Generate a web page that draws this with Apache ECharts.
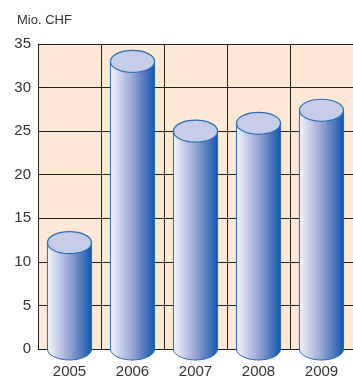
<!DOCTYPE html>
<html>
<head>
<meta charset="utf-8">
<script src="https://cdn.jsdelivr.net/npm/echarts@6/dist/echarts.min.js"></script>
<style>html,body{margin:0;padding:0;background:#fff;}#c{width:353px;height:379px;}</style>
</head>
<body>
<div id="c"></div>
<script>
const categories = ['2005', '2006', '2007', '2008', '2009'];
const values = [12.2, 33, 25, 25.9, 27.4];
const yTicks = { min: 0, max: 35, interval: 5 };
const unitLabel = 'Mio. CHF';

const chart = echarts.init(document.getElementById('c'));
const FONT = '"Liberation Sans", Arial, sans-serif';

function renderCylinder(params, api) {
  const idx = api.value(0);
  const val = api.value(1);
  const top = api.coord([idx, val]);
  const base = api.coord([idx, 0]);
  const bandW = api.size([1, 0])[0];
  const rx = bandW * 0.35;
  const ry = 11;
  const cx = top[0];
  const l = cx - rx, r = cx + rx;
  const bodyPath = 'M' + l + ',' + top[1] + ' L' + l + ',' + base[1] +
    ' A' + rx + ',' + ry + ' 0 0 0 ' + r + ',' + base[1] +
    ' L' + r + ',' + top[1] + ' Z';
  const capPath = 'M' + l + ',' + top[1] +
    ' A' + rx + ',' + ry + ' 0 1 0 ' + r + ',' + top[1] +
    ' A' + rx + ',' + ry + ' 0 1 0 ' + l + ',' + top[1] + ' Z';
  return {
    type: 'group',
    children: [
      {
        type: 'path',
        shape: { pathData: bodyPath },
        style: {
          fill: new echarts.graphic.LinearGradient(0, 0, 1, 0, [
            { offset: 0, color: '#f4f5fc' },
            { offset: 0.45, color: '#a2aed8' },
            { offset: 0.8, color: '#4a74bd' },
            { offset: 1, color: '#0858ad' }
          ]),
          stroke: '#2a6cb6',
          lineWidth: 1
        }
      },
      {
        type: 'path',
        shape: { pathData: capPath },
        style: { fill: '#c5cde8', stroke: '#2a6cb6', lineWidth: 1.2 }
      }
    ]
  };
}

chart.setOption({
  animation: false,
  backgroundColor: '#ffffff',
  title: {
    text: unitLabel,
    left: 12,
    top: 9,
    textStyle: { fontFamily: FONT, fontSize: 13, fontWeight: 'normal', color: '#333' }
  },
  grid: {
    left: 38, top: 44, bottom: 27, width: 322,
    show: true, backgroundColor: '#fde9d5', borderWidth: 0
  },
  xAxis: {
    type: 'category',
    data: categories,
    boundaryGap: true,
    axisLine: { show: true, lineStyle: { color: '#222', width: 1 } },
    axisTick: { show: false },
    splitLine: { show: true, interval: 0, lineStyle: { color: '#2a2520', width: 1 } },
    axisLabel: { fontFamily: FONT, fontSize: 15, color: '#333', margin: 15, interval: 0 }
  },
  yAxis: {
    type: 'value',
    min: yTicks.min, max: yTicks.max, interval: yTicks.interval,
    axisLine: { show: true, lineStyle: { color: '#222', width: 1 } },
    axisTick: { show: false },
    splitLine: { show: true, lineStyle: { color: '#222', width: 1 } },
    axisLabel: { fontFamily: FONT, fontSize: 15, color: '#333', margin: 7, padding: [6, 0, 0, 0] }
  },
  series: [{
    type: 'custom',
    renderItem: renderCylinder,
    clip: false,
    encode: { x: 0, y: 1 },
    data: values.map((v, i) => [i, v])
  }]
});
</script>
</body>
</html>
